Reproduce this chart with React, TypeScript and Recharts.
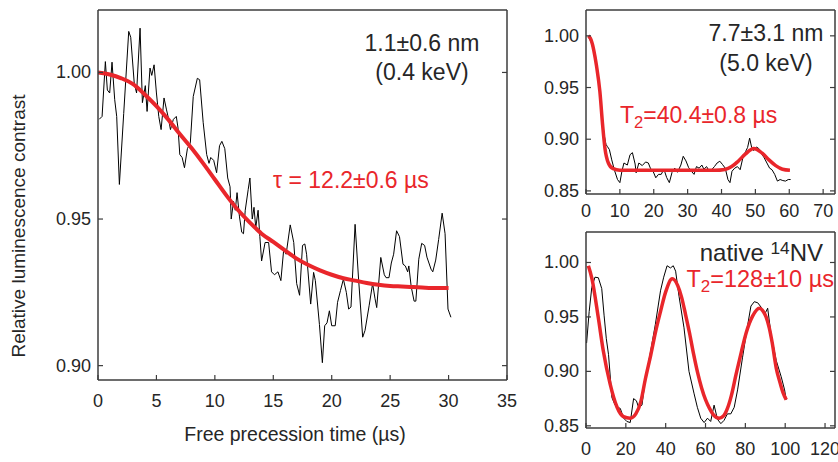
import React from "react";
import { LineChart, Line, XAxis, YAxis } from "recharts";

const FONT = '"Liberation Sans", Arial, Helvetica, sans-serif';
const RED = "#e9262b";
const AXIS = "#3c3c3c";
const INK = "#262626";

type Pt = [number, number];

// ---- left panel: 1.1 nm (0.4 keV)
const leftRaw: Pt[] = [
  [0.1, 0.984], [0.35, 0.985], [0.63, 1.0037], [0.8, 0.994], [1.0, 0.993], [1.2, 1.0035],
  [1.43, 0.9907], [1.6, 0.985], [1.83, 0.9618], [2.2, 0.986], [2.63, 1.014], [2.8, 1.012],
  [3.1, 0.9964], [3.3, 0.993], [3.6, 1.0151], [3.8, 0.9897], [4.05, 0.9955], [4.2, 0.9867],
  [4.45, 1.0015], [4.6, 0.999], [4.8, 1.0026], [5.0, 0.993], [5.2, 0.985], [5.4, 0.9805],
  [5.65, 0.9913], [5.85, 0.9875], [6.05, 0.984], [6.2, 0.9805], [6.45, 0.984], [6.7, 0.985],
  [6.85, 0.981], [7.0, 0.972], [7.2, 0.971], [7.4, 0.9675], [7.65, 0.974], [7.9, 0.976],
  [8.15, 0.9918], [8.5, 0.998], [8.7, 0.9975], [9.0, 0.983], [9.3, 0.972], [9.5, 0.969],
  [9.65, 0.971], [9.9, 0.97], [10.15, 0.9658], [10.4, 0.975], [10.6, 0.9765], [10.85, 0.974],
  [11.1, 0.964], [11.3, 0.961], [11.4, 0.95], [11.6, 0.956], [11.75, 0.953], [11.9, 0.959],
  [12.1, 0.951], [12.3, 0.9455], [12.45, 0.945], [12.6, 0.953], [12.85, 0.96], [13.0, 0.964],
  [13.2, 0.95], [13.35, 0.954], [13.5, 0.947], [13.7, 0.953], [13.85, 0.944], [14.0, 0.9357],
  [14.3, 0.942], [14.6, 0.942], [14.85, 0.932], [15.1, 0.931], [15.4, 0.932], [15.65, 0.929],
  [15.9, 0.94], [16.1, 0.938], [16.45, 0.948], [16.75, 0.942], [17.0, 0.928], [17.25, 0.924],
  [17.5, 0.941], [17.7, 0.9415], [17.85, 0.938], [18.2, 0.921], [18.45, 0.9318], [18.6, 0.929],
  [18.95, 0.914], [19.2, 0.901], [19.4, 0.9136], [19.6, 0.9146], [19.8, 0.9187], [20.0, 0.9136],
  [20.3, 0.9136], [20.5, 0.9216], [20.75, 0.9256], [21.0, 0.9295], [21.25, 0.925], [21.45, 0.9193],
  [21.65, 0.92], [22.0, 0.9482], [22.3, 0.9295], [22.65, 0.9097], [22.85, 0.912], [23.2, 0.9204],
  [23.5, 0.928], [23.7, 0.923], [23.85, 0.9198], [24.2, 0.9369], [24.5, 0.931], [24.65, 0.93],
  [24.9, 0.93], [25.1, 0.935], [25.3, 0.938], [25.55, 0.946], [25.8, 0.944], [26.1, 0.9346],
  [26.3, 0.934], [26.5, 0.932], [26.6, 0.934], [26.8, 0.927], [27.05, 0.922], [27.2, 0.922],
  [27.45, 0.9363], [27.7, 0.9417], [27.95, 0.941], [28.15, 0.937], [28.5, 0.9329], [28.65, 0.932],
  [28.9, 0.936], [29.15, 0.943], [29.45, 0.952], [29.7, 0.945], [29.95, 0.9193], [30.2, 0.9165],
];
const leftFit: Pt[] = [
  [0, 1.0], [1, 0.9993], [2, 0.998], [3, 0.996], [4, 0.9925], [5, 0.9885], [6, 0.984],
  [7, 0.979], [8, 0.9742], [9, 0.969], [10, 0.9635], [11, 0.958], [12, 0.953], [13, 0.9488],
  [14, 0.945], [15, 0.9422], [16, 0.9393], [17, 0.9365], [18, 0.9343], [19, 0.9325], [20, 0.931],
  [21, 0.9298], [22, 0.929], [23, 0.9282], [24, 0.9276], [25, 0.9272], [26, 0.927], [27, 0.9268],
  [28, 0.9266], [29, 0.9265], [30, 0.9265],
];
const leftXTicks = [0, 5, 10, 15, 20, 25, 30, 35];
const leftYTicks = [0.9, 0.95, 1.0];

// ---- top right: 7.7 nm (5.0 keV)
const trRaw: Pt[] = [
  [0.7, 0.999], [1.5, 0.994], [2.3, 0.985], [3.1, 0.97], [3.9, 0.95], [4.7, 0.925], [5.3, 0.905],
  [5.9, 0.895], [6.3, 0.893], [6.9, 0.89], [7.6, 0.88], [8.4, 0.87], [9.3, 0.861], [10.0, 0.858],
  [10.6, 0.869], [11.2, 0.877], [12.2, 0.875], [13.0, 0.885], [13.7, 0.887], [14.5, 0.876],
  [14.8, 0.8675], [15.6, 0.877], [16.6, 0.8745], [17.6, 0.878], [18.4, 0.877], [19.0, 0.872],
  [19.8, 0.869], [20.6, 0.8627], [21.4, 0.866], [22.2, 0.866], [23.0, 0.871], [23.8, 0.863],
  [24.6, 0.858], [25.4, 0.868], [26.2, 0.872], [27.0, 0.868], [28.0, 0.875], [28.7, 0.8835],
  [29.5, 0.879], [30.3, 0.8725], [31.1, 0.869], [31.9, 0.866], [32.6, 0.8735], [33.4, 0.872],
  [34.2, 0.875], [34.8, 0.871], [35.6, 0.8735], [36.4, 0.869], [37.1, 0.8705], [37.9, 0.8735],
  [38.7, 0.877], [39.5, 0.8787], [40.3, 0.8755], [41.1, 0.872], [41.9, 0.861], [42.5, 0.858],
  [43.1, 0.869], [43.9, 0.872], [44.7, 0.8735], [45.5, 0.8705], [46.3, 0.882], [47.1, 0.888],
  [47.7, 0.892], [48.3, 0.901], [48.9, 0.892], [49.5, 0.889], [50.3, 0.8925], [51.0, 0.891],
  [51.8, 0.886], [52.6, 0.882], [53.4, 0.877], [54.2, 0.872], [54.9, 0.8705], [55.7, 0.866],
  [56.5, 0.8595], [57.3, 0.861], [58.1, 0.86], [58.9, 0.8595], [59.7, 0.861], [60.4, 0.861],
];
const trFit: Pt[] = [
  [0.7, 1.0], [1.5, 0.996], [2.3, 0.986], [3.1, 0.971], [4.1, 0.946], [4.9, 0.914], [5.6, 0.891],
  [6.6, 0.877], [8, 0.8715], [10, 0.87], [20, 0.87], [30, 0.87], [38, 0.87], [41, 0.8708],
  [43, 0.8735], [45, 0.879], [47, 0.8855], [49.5, 0.891], [52, 0.8865], [54, 0.88], [56, 0.8745],
  [58, 0.871], [60.2, 0.87],
];
const trXTicks = [0, 10, 20, 30, 40, 50, 60, 70];
const trYTicks = [0.85, 0.9, 0.95, 1.0];

// ---- bottom right: native 14NV
const brRaw: Pt[] = [
  [0.3, 0.926], [1.6, 0.955], [2.9, 0.977], [4.5, 0.9865], [6.2, 0.986], [7.9, 0.976], [9.1, 0.951],
  [10.2, 0.93], [11.3, 0.9156], [13, 0.876], [14.6, 0.869], [15.8, 0.867], [17.2, 0.866],
  [18.9, 0.857], [20.5, 0.854], [22.2, 0.853], [23.9, 0.875], [25.3, 0.873], [26.4, 0.867],
  [28.1, 0.869], [29.8, 0.893], [32.3, 0.917], [34.8, 0.943], [37.4, 0.974], [39, 0.9865],
  [40.7, 0.997], [42.4, 0.995], [43.8, 0.997], [45, 0.992], [46.7, 0.969], [49.2, 0.94],
  [51.7, 0.9], [54.2, 0.88], [55.9, 0.867], [57.6, 0.857], [59.3, 0.853], [61, 0.857],
  [62.6, 0.854], [64.3, 0.869], [66, 0.856], [67.7, 0.852], [69.3, 0.855], [71, 0.861],
  [72.7, 0.861], [74.4, 0.867], [76.1, 0.883], [78.6, 0.913], [81.2, 0.943], [82.8, 0.96],
  [84.5, 0.964], [86.2, 0.963], [87.9, 0.959], [89.6, 0.952], [91.2, 0.958], [92.9, 0.934],
  [95.5, 0.91], [98, 0.895], [99.7, 0.883], [100.5, 0.874],
];
const brFit: Pt[] = [
  [1.2, 0.997], [3, 0.985], [6.2, 0.949], [8.7, 0.9187], [12.1, 0.8885], [15.5, 0.8675],
  [18.8, 0.8585], [22.2, 0.857], [25, 0.861], [27.5, 0.872], [29.8, 0.893], [32.5, 0.915],
  [35, 0.937], [37.4, 0.955], [40, 0.973], [43.3, 0.985], [46, 0.979], [48, 0.968], [50, 0.952],
  [52, 0.935], [54, 0.916], [56, 0.899], [58, 0.885], [60, 0.874], [62, 0.866], [64, 0.86],
  [66.8, 0.857], [69, 0.859], [71, 0.866], [73, 0.878], [75.3, 0.897], [78, 0.918], [80.5, 0.936],
  [83.7, 0.951], [87, 0.958], [89, 0.955], [90.4, 0.95], [92, 0.94], [93.5, 0.926], [95.5, 0.903],
  [97.5, 0.889], [99, 0.88], [100.5, 0.874],
];
const brXTicks = [0, 20, 40, 60, 80, 100, 120];
const brYTicks = [0.85, 0.9, 0.95, 1.0];

const rows = (pts: Pt[]) => pts.map(([t, v]) => ({ t, v }));

const TICK_LEN = 5;
const TICK_FONT = 18;

const bottomTick = (dy: number) => (props: any) => {
  const { x, y, payload } = props;
  return (
    <g>
      <line x1={x} x2={x} y1={y} y2={y - TICK_LEN} stroke={AXIS} strokeWidth={1.2} />
      <text x={x} y={y + dy} textAnchor="middle" dominantBaseline="central"
        fontFamily={FONT} fontSize={TICK_FONT} fill={INK}>{payload.value}</text>
    </g>
  );
};
const leftTick = (props: any) => {
  const { x, y, payload } = props;
  return (
    <g>
      <line x1={x} x2={x + TICK_LEN} y1={y} y2={y} stroke={AXIS} strokeWidth={1.2} />
      <text x={x - 7} y={y} textAnchor="end" dominantBaseline="central"
        fontFamily={FONT} fontSize={TICK_FONT} fill={INK}>{Number(payload.value).toFixed(2)}</text>
    </g>
  );
};
const topTick = (props: any) => (
  <line x1={props.x} x2={props.x} y1={props.y} y2={props.y + TICK_LEN} stroke={AXIS} strokeWidth={1.2} />
);
const rightTick = (props: any) => (
  <line x1={props.x} x2={props.x - TICK_LEN} y1={props.y} y2={props.y} stroke={AXIS} strokeWidth={1.2} />
);

const axisLine = { stroke: AXIS, strokeWidth: 1.5 };

interface PanelProps {
  width: number;
  height: number;
  margin: { top: number; right: number; bottom: number; left: number };
  xDomain: [number, number];
  yDomain: [number, number];
  xTicks: number[];
  yTicks: number[];
  raw: Pt[];
  fit: Pt[];
  fitWidth: number;
  labelDy: number;
}

// axes are 1px thick boxes (recharts skips 0-size axes), so margins are 1px short of the frame
function Panel({ width, height, margin, xDomain, yDomain, xTicks, yTicks, raw, fit, fitWidth, labelDy }: PanelProps) {
  return (
    <LineChart width={width} height={height} margin={margin}>
      <XAxis xAxisId="b" type="number" dataKey="t" domain={xDomain} ticks={xTicks} allowDataOverflow
        orientation="bottom" height={1} tickSize={0} tickMargin={0} interval={0}
        tick={bottomTick(labelDy)} tickLine={false} axisLine={axisLine} />
      <XAxis xAxisId="t" type="number" domain={xDomain} ticks={xTicks} allowDataOverflow
        orientation="top" height={1} tickSize={0} tickMargin={0} interval={0}
        tick={topTick} tickLine={false} axisLine={axisLine} />
      <YAxis yAxisId="l" type="number" domain={yDomain} ticks={yTicks} allowDataOverflow
        orientation="left" width={1} tickSize={0} tickMargin={0} interval={0}
        tick={leftTick} tickLine={false} axisLine={axisLine} />
      <YAxis yAxisId="r" type="number" domain={yDomain} ticks={yTicks} allowDataOverflow
        orientation="right" width={1} tickSize={0} tickMargin={0} interval={0}
        tick={rightTick} tickLine={false} axisLine={axisLine} />
      <Line xAxisId="b" yAxisId="l" data={rows(raw)} dataKey="v" type="linear"
        stroke="#000" strokeWidth={1} dot={false} activeDot={false} isAnimationActive={false} />
      <Line xAxisId="b" yAxisId="l" data={rows(fit)} dataKey="v" type="monotone"
        stroke={RED} strokeWidth={fitWidth} dot={false} activeDot={false} isAnimationActive={false} />
    </LineChart>
  );
}

function Note({ x, y, anchor = "middle", color = INK, size = 23, children }: {
  x: number; y: number; anchor?: "start" | "middle" | "end"; color?: string; size?: number; children: React.ReactNode;
}) {
  const tx = anchor === "middle" ? "-50%" : anchor === "end" ? "-100%" : "0";
  return (
    <div style={{
      position: "absolute", left: x, top: y, transform: `translate(${tx}, -50%)`,
      fontFamily: FONT, fontSize: size, color, lineHeight: 1, whiteSpace: "nowrap",
    }}>{children}</div>
  );
}

const small = { fontSize: "0.72em", position: "relative" as const };

export default function App() {
  return (
    <div style={{ position: "absolute", left: 0, top: 0, width: 838, height: 462, background: "#fff", overflow: "hidden" }}>
      <div style={{ position: "absolute", left: 0, top: 0 }}>
        <Panel width={530} height={462} margin={{ top: 9, right: 22, bottom: 81, left: 97 }}
          xDomain={[0, 35]} yDomain={[0.8951, 1.0213]} xTicks={leftXTicks} yTicks={leftYTicks}
          raw={leftRaw} fit={leftFit} fitWidth={4} labelDy={21} />
      </div>
      <div style={{ position: "absolute", left: 530, top: 0 }}>
        <Panel width={308} height={225} margin={{ top: 9, right: 2, bottom: 30, left: 55 }}
          xDomain={[0, 73.5]} yDomain={[0.847, 1.025]} xTicks={trXTicks} yTicks={trYTicks}
          raw={trRaw} fit={trFit} fitWidth={3.5} labelDy={17} />
      </div>
      <div style={{ position: "absolute", left: 530, top: 225 }}>
        <Panel width={308} height={237} margin={{ top: 6, right: 2, bottom: 33, left: 55 }}
          xDomain={[0, 125]} yDomain={[0.848, 1.028]} xTicks={brXTicks} yTicks={brYTicks}
          raw={brRaw} fit={brFit} fitWidth={3.5} labelDy={21} />
      </div>

      <Note x={422} y={43}>1.1±0.6 nm</Note>
      <Note x={422} y={72}>(0.4 keV)</Note>
      <Note x={273} y={180} anchor="start" color={RED}>τ = 12.2±0.6 µs</Note>
      <Note x={295} y={435} size={19.5}>Free precession time (µs)</Note>
      <div style={{
        position: "absolute", left: 18, top: 226, transform: "translate(-50%, -50%) rotate(-90deg)",
        fontFamily: FONT, fontSize: 19, color: INK, lineHeight: 1, whiteSpace: "nowrap",
      }}>Relative luminescence contrast</div>

      <Note x={766} y={33}>7.7±3.1 nm</Note>
      <Note x={766} y={63}>(5.0 keV)</Note>
      <Note x={620} y={115} anchor="start" color={RED}>
        T<span style={{ ...small, top: "0.3em" }}>2</span>=40.4±0.8 µs
      </Note>

      <Note x={823} y={253} anchor="end" size={24}>
        native <span style={{ ...small, top: "-0.42em" }}>14</span>NV
      </Note>
      <Note x={834} y={280} anchor="end" color={RED} size={23.5}>
        T<span style={{ ...small, top: "0.3em" }}>2</span>=128±10 µs
      </Note>
    </div>
  );
}
